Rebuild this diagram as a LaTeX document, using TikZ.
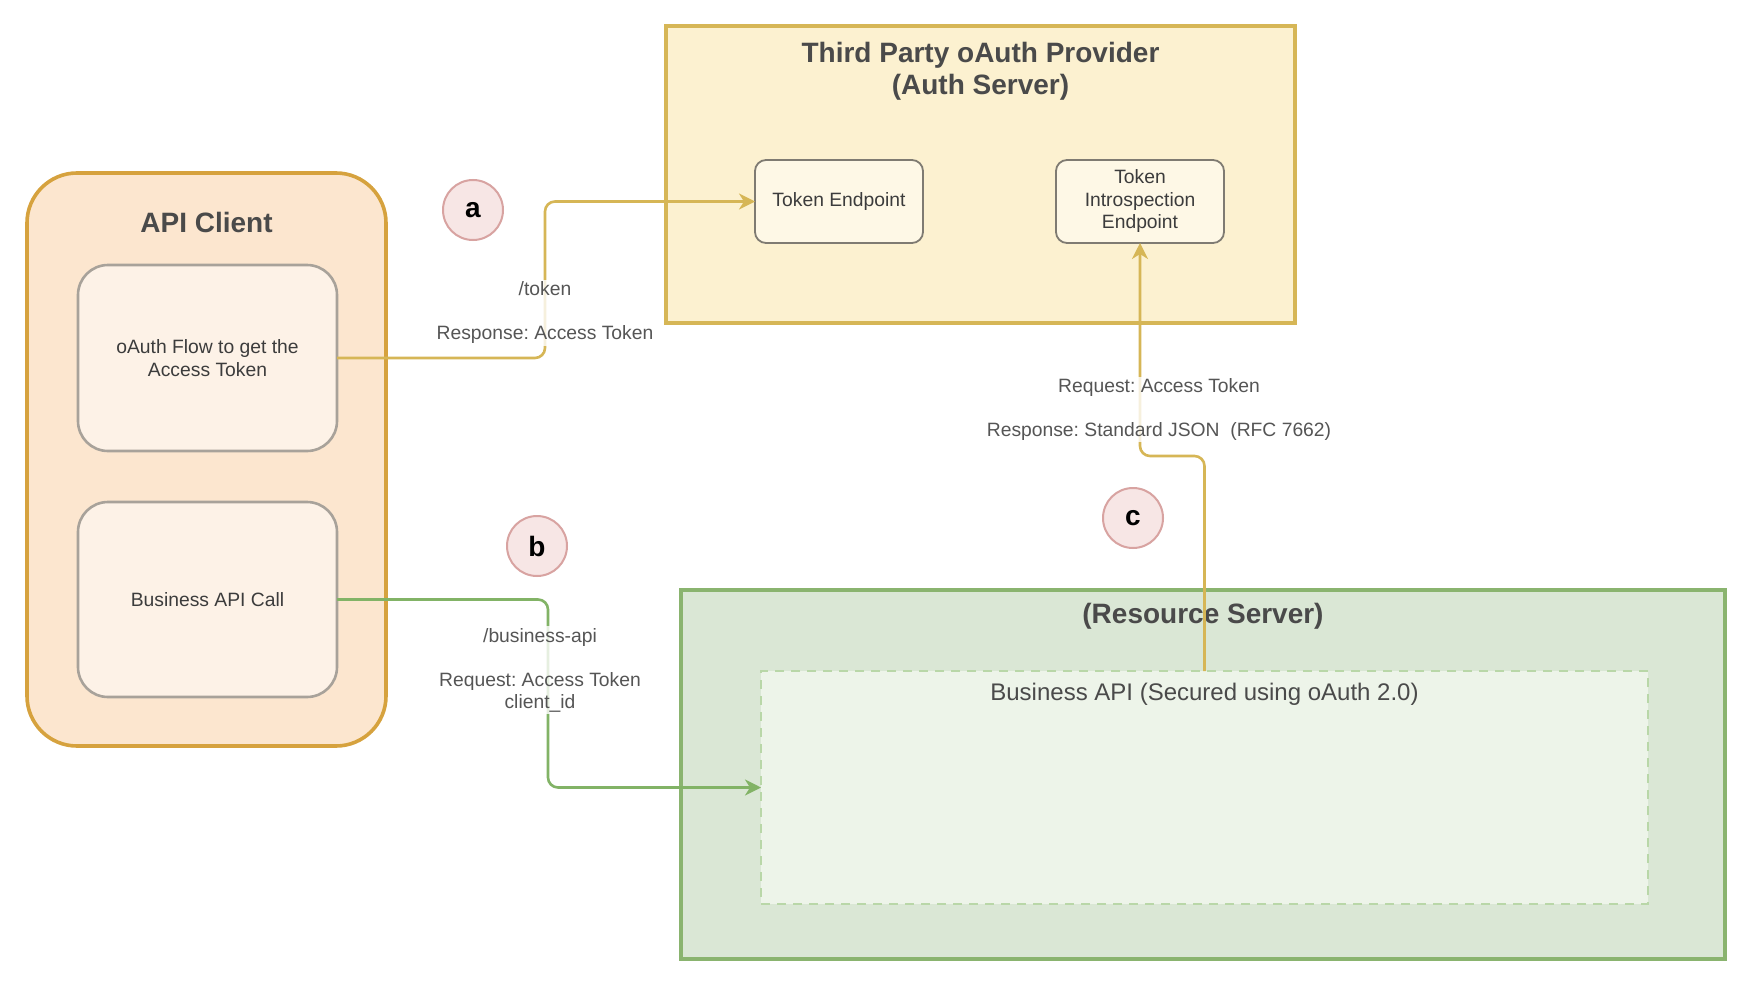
\documentclass[tikz,border=0pt]{standalone}
\usepackage{fontspec}
\setmainfont{Liberation Sans}
\usetikzlibrary{arrows.meta}
\frenchspacing
\definecolor{clientfill}{HTML}{FCE6CF}
\definecolor{clientdraw}{HTML}{D6A23E}
\definecolor{innerfill}{HTML}{FDF2E7}
\definecolor{innerdraw}{HTML}{A8A29A}
\definecolor{authfill}{HTML}{FCF1D0}
\definecolor{authdraw}{HTML}{D6B656}
\definecolor{epfill}{HTML}{FEF8E6}
\definecolor{epdraw}{HTML}{7F7B72}
\definecolor{resfill}{HTML}{DAE7D5}
\definecolor{resdraw}{HTML}{8AB46F}
\definecolor{apifill}{HTML}{EDF4E9}
\definecolor{apidraw}{HTML}{B9D7A8}
\definecolor{badgefill}{HTML}{F7E6E5}
\definecolor{badgedraw}{HTML}{D8A3A1}
\definecolor{greenline}{HTML}{82B366}
\definecolor{titlecol}{HTML}{4A4A4A}
\definecolor{textcol}{HTML}{3C3C3C}
\definecolor{labelcol}{HTML}{555555}
\begin{document}
\begin{tikzpicture}[x=1pt,y=-1pt,
  box/.style={rectangle, inner sep=0pt, outer sep=0pt},
  container/.style={box, line width=3.6pt},
  titletext/.style={text=titlecol, font=\fontsize{28}{32}\selectfont\bfseries, align=center, inner sep=0pt},
  bodytext/.style={text=textcol, font=\fontsize{19.3}{22.5}\selectfont, align=center},
  edgelabel/.style={text=labelcol, font=\fontsize{19.3}{22}\selectfont, align=center, fill=white, fill opacity=0.8, text opacity=1, inner sep=2pt},
  badge/.style={circle, minimum size=60pt, inner sep=0pt, fill=badgefill, draw=badgedraw, line width=2pt, font=\fontsize{28}{32}\selectfont\bfseries},
  conn/.style={line width=2.6pt, rounded corners=10pt, -{Stealth[length=16pt,width=16pt,inset=5pt]}},
]
\useasboundingbox (0,0) rectangle (1754,990);
\fill[white] (0,0) rectangle (1754,990);

% API Client
\node[container, fill=clientfill, draw=clientdraw, rounded corners=50pt, minimum width=359pt, minimum height=573pt] (client) at (206.5,459.5) {};
\node[titletext] (clienttitle) at (206.5,222) {API Client};
\node[box, bodytext, fill=innerfill, draw=innerdraw, line width=2.6pt, rounded corners=30pt, minimum width=259pt, minimum height=186pt] (oauth) at (207.5,358) {oAuth Flow to get the\\Access Token};
\node[box, bodytext, fill=innerfill, draw=innerdraw, line width=2.6pt, rounded corners=30pt, minimum width=259pt, minimum height=195pt] (biz) at (207.5,599.5) {Business API Call};

% Auth server
\node[container, fill=authfill, draw=authdraw, minimum width=629pt, minimum height=297pt] (auth) at (980.5,174.5) {};
\node[titletext] (authtitle) at (980.5,71) {Third Party oAuth Provider\\(Auth Server)};
\node[box, bodytext, fill=epfill, draw=epdraw, line width=1.8pt, rounded corners=11pt, minimum width=168pt, minimum height=83pt] (token) at (839,201.5) {Token Endpoint};
\node[box, bodytext, fill=epfill, draw=epdraw, line width=1.8pt, rounded corners=11pt, minimum width=168pt, minimum height=83pt] (intro) at (1140,201.5) {Token\\Introspection\\Endpoint};

% Resource server
\node[container, fill=resfill, draw=resdraw, minimum width=1044pt, minimum height=369pt] (res) at (1203,774.5) {};
\node[titletext] (restitle) at (1203,616) {(Resource Server)};
\node[box, fill=apifill, draw=apidraw, line width=2.2pt, dash pattern=on 9pt off 7pt, minimum width=887pt, minimum height=233pt] (bapi) at (1204.5,787.5) {};
\node[text=titlecol, font=\fontsize{24}{28}\selectfont, inner sep=0pt] (bapititle) at (1204.5,694) {Business API (Secured using oAuth 2.0)};

% Connectors
\draw[conn, draw=authdraw] (oauth.east) -- ++(208,0) |- (token.west);
\draw[conn, draw=greenline] (biz.east) -- ++(211,0) |- (bapi.west);
\draw[conn, draw=authdraw] (bapi.north) -- ++(0,-215) -| (intro.south);

% Labels
\node[edgelabel] (la) at (545,313) {/token\\[22pt]Response: Access Token};
\node[edgelabel] (lb) at (540,670) {/business-api\\[22pt]Request: Access Token\\client\_id};
\node[edgelabel] (lc) at (1159,409.5) {Request: Access Token\\[22pt]Response: Standard JSON\ \ (RFC 7662)};

% Badges
\node[badge] (ba) at (473,210) {a};
\node[badge] (bb) at (537,546) {b};
\node[badge] (bc) at (1133,518) {c};
\end{tikzpicture}
\end{document}
